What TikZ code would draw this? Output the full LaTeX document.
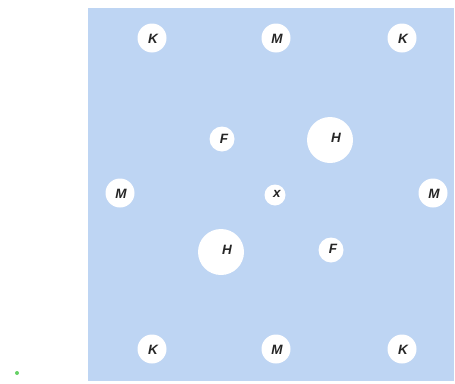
\documentclass[tikz,border=0pt]{standalone}
\usepackage{fontspec}
\setmainfont{Liberation Sans}
\begin{document}
\begin{tikzpicture}[x=1pt,y=-1pt,
  atom/.style={circle,fill=white,inner sep=0pt,minimum size=#1},
  lbl/.style={font=\bfseries\itshape\fontsize{13.5}{14}\selectfont,text=black!85,anchor=base,yshift=-5pt},
]
\useasboundingbox (0,0) rectangle (455,383);
\definecolor{bgblue}{RGB}{190,213,243}
\fill[bgblue] (88,8) rectangle (454,381);
\fill[green!70!black!60] (17,373) circle (2);
\node[atom=29] (k1) at (152,38) {}; \node[lbl] (k1l) at (153,38) {K};
\node[atom=29] (m1) at (276,38) {}; \node[lbl] (m1l) at (277,38) {M};
\node[atom=29] (k2) at (402,38) {}; \node[lbl] (k2l) at (403,38) {K};
\node[atom=25] (f1) at (222,139) {}; \node[lbl] (f1l) at (224,138) {F};
\node[atom=46] (h1) at (330,140) {}; \node[lbl] (h1l) at (336,137) {H};
\node[atom=29] (m2) at (120,193) {}; \node[lbl] (m2l) at (121,193) {M};
\node[atom=21] (x) at (275,195) {}; \node[lbl] (xl) at (277,192) {x};
\node[atom=29] (m3) at (433,193) {}; \node[lbl] (m3l) at (434,193) {M};
\node[atom=46] (h2) at (221,252) {}; \node[lbl] (h2l) at (227,249) {H};
\node[atom=25] (f2) at (331,250) {}; \node[lbl] (f2l) at (333,248) {F};
\node[atom=29] (k3) at (152,349) {}; \node[lbl] (k3l) at (153,349) {K};
\node[atom=29] (m4) at (276,349) {}; \node[lbl] (m4l) at (277,349) {M};
\node[atom=29] (k4) at (402,349) {}; \node[lbl] (k4l) at (403,349) {K};
\end{tikzpicture}
\end{document}
